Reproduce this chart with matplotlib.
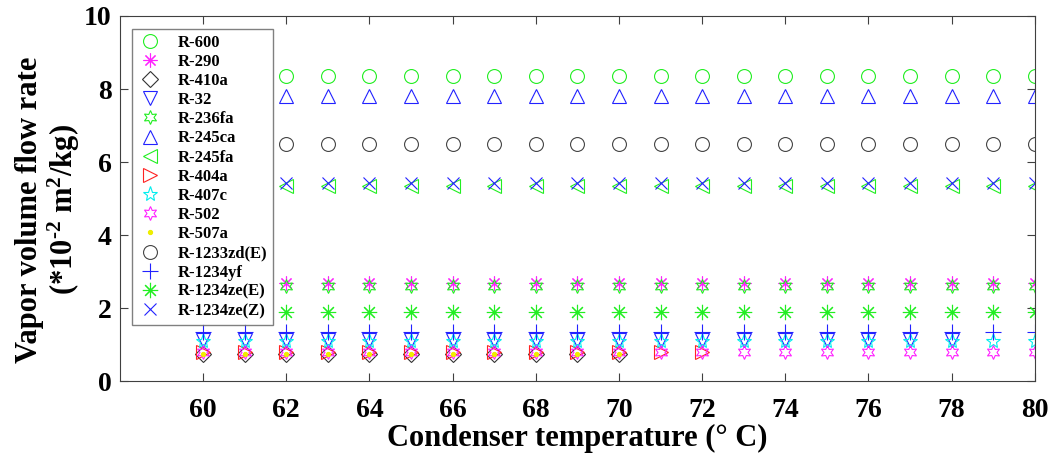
import matplotlib
matplotlib.use("Agg")
import matplotlib.pyplot as plt

plt.rcParams["font.family"] = ["Liberation Serif", "DejaVu Serif"]
plt.rcParams["font.weight"] = "bold"
plt.rcParams["mathtext.fontset"] = "custom"
plt.rcParams["mathtext.rm"] = "Liberation Serif:bold"
plt.rcParams["mathtext.bf"] = "Liberation Serif:bold"
plt.rcParams["mathtext.it"] = "Liberation Serif:bold"
plt.rcParams["mathtext.default"] = "rm"

# 冷凝温度 (°C)
t_all = [60, 61, 62, 63, 64, 65, 66, 67, 68, 69, 70, 71, 72, 73, 74, 75, 76, 77, 78, 79, 80]
t_62 = [62, 63, 64, 65, 66, 67, 68, 69, 70, 71, 72, 73, 74, 75, 76, 77, 78, 79, 80]
t_to78 = [60, 61, 62, 63, 64, 65, 66, 67, 68, 69, 70, 71, 72, 73, 74, 75, 76, 77, 78]
t_to72 = [60, 61, 62, 63, 64, 65, 66, 67, 68, 69, 70, 71, 72]
t_to70 = [60, 61, 62, 63, 64, 65, 66, 67, 68, 69, 70]

# 各工质的蒸气体积流量 (*10^-2 m^2/kg)
r600 = [8.35, 8.35, 8.35, 8.35, 8.35, 8.35, 8.35, 8.35, 8.35, 8.35, 8.35, 8.35, 8.35, 8.35, 8.35, 8.35, 8.35, 8.35, 8.35]
r290 = [2.68, 2.68, 2.68, 2.68, 2.68, 2.68, 2.68, 2.68, 2.68, 2.68, 2.68, 2.68, 2.68, 2.68, 2.68, 2.68, 2.68, 2.68, 2.68]
r410a = [0.75, 0.75, 0.75, 0.75, 0.75, 0.75, 0.75, 0.75, 0.75, 0.75, 0.75]
r32 = [1.12, 1.12, 1.12, 1.12, 1.12, 1.12, 1.12, 1.12, 1.12, 1.12, 1.12, 1.12, 1.12, 1.12, 1.12, 1.12, 1.12, 1.12, 1.12]
r236fa = [2.6, 2.6, 2.6, 2.6, 2.6, 2.6, 2.6, 2.6, 2.6, 2.6, 2.6, 2.6, 2.6, 2.6, 2.6, 2.6, 2.6, 2.6, 2.6]
r245ca = [7.8, 7.8, 7.8, 7.8, 7.8, 7.8, 7.8, 7.8, 7.8, 7.8, 7.8, 7.8, 7.8, 7.8, 7.8, 7.8, 7.8, 7.8, 7.8]
r245fa = [5.35, 5.35, 5.35, 5.35, 5.35, 5.35, 5.35, 5.35, 5.35, 5.35, 5.35, 5.35, 5.35, 5.35, 5.35, 5.35, 5.35, 5.35, 5.35]
r404a = [0.8, 0.8, 0.8, 0.8, 0.8, 0.8, 0.8, 0.8, 0.8, 0.8, 0.8, 0.8, 0.8]
r407c = [1.1, 1.1, 1.1, 1.1, 1.1, 1.1, 1.1, 1.1, 1.1, 1.1, 1.1, 1.1, 1.1, 1.1, 1.1, 1.1, 1.1, 1.1, 1.1, 1.1, 1.1]
r502 = [0.8, 0.8, 0.8, 0.8, 0.8, 0.8, 0.8, 0.8, 0.8, 0.8, 0.8, 0.8, 0.8, 0.8, 0.8, 0.8, 0.8, 0.8, 0.8, 0.8, 0.8]
r507a = [0.75, 0.75, 0.75, 0.75, 0.75, 0.75, 0.75, 0.75, 0.75, 0.75, 0.75]
r1233zd = [6.5, 6.5, 6.5, 6.5, 6.5, 6.5, 6.5, 6.5, 6.5, 6.5, 6.5, 6.5, 6.5, 6.5, 6.5, 6.5, 6.5, 6.5, 6.5]
r1234yf = [1.35, 1.35, 1.35, 1.35, 1.35, 1.35, 1.35, 1.35, 1.35, 1.35, 1.35, 1.35, 1.35, 1.35, 1.35, 1.35, 1.35, 1.35, 1.35, 1.35, 1.35]
r1234ze_e = [1.9, 1.9, 1.9, 1.9, 1.9, 1.9, 1.9, 1.9, 1.9, 1.9, 1.9, 1.9, 1.9, 1.9, 1.9, 1.9, 1.9, 1.9, 1.9]
r1234ze_z = [5.42, 5.42, 5.42, 5.42, 5.42, 5.42, 5.42, 5.42, 5.42, 5.42, 5.42, 5.42, 5.42, 5.42, 5.42, 5.42, 5.42, 5.42, 5.42]

x_ticks = [60, 62, 64, 66, 68, 70, 72, 74, 76, 78, 80]
y_ticks = [0, 2, 4, 6, 8, 10]

asterisk = (8, 2, 0)
hexagram = (6, 1, 0)

# (名称, 温度, 数值, 标记, 颜色, 尺寸)
series = [
    ("R-600", t_62, r600, "o", "#22ee22", 10),
    ("R-290", t_62, r290, asterisk, "#ff22ff", 10),
    ("R-410a", t_to70, r410a, "D", "#333333", 8),
    ("R-32", t_to78, r32, "v", "#2222ff", 10),
    ("R-236fa", t_62, r236fa, hexagram, "#22ee22", 10),
    ("R-245ca", t_62, r245ca, "^", "#2222ff", 10),
    ("R-245fa", t_62, r245fa, "<", "#22ee22", 10),
    ("R-404a", t_to72, r404a, ">", "#ff2222", 10),
    ("R-407c", t_all, r407c, "*", "#00eeee", 11),
    ("R-502", t_all, r502, hexagram, "#ff22ff", 10),
    ("R-507a", t_to70, r507a, ".", "#eeee00", 6),
    ("R-1233zd(E)", t_62, r1233zd, "o", "#444444", 10),
    ("R-1234yf", t_all, r1234yf, "+", "#2222ff", 11),
    ("R-1234ze(E)", t_62, r1234ze_e, asterisk, "#22ee22", 11),
    ("R-1234ze(Z)", t_62, r1234ze_z, "x", "#2222ff", 9),
]

fig = plt.figure(figsize=(10.57, 4.65), dpi=100)
ax = fig.add_axes([0.1135, 0.1806, 0.8655, 0.785])

for name, t, v, mk, col, ms in series:
    filled = mk == "."
    ax.plot(t, v, linestyle="none", marker=mk, markersize=ms,
            markeredgecolor=col, markerfacecolor=col if filled else "none",
            markeredgewidth=0.8, label=name)

ax.set_xlim(58, 80)
ax.set_ylim(0, 10)
ax.set_xticks(x_ticks)
ax.set_yticks(y_ticks)
ax.tick_params(direction="in", length=6, width=0.8, color="#404040",
               top=True, right=True, labelsize=20)
ax.tick_params(axis="x", pad=12)
ax.tick_params(axis="y", pad=6)
for lab in ax.get_xticklabels() + ax.get_yticklabels():
    lab.set_fontweight("bold")
for sp in ax.spines.values():
    sp.set_color("#404040")
    sp.set_linewidth(0.8)

ax.set_xlabel("Condenser temperature (° C)", fontsize=22, fontweight="bold", labelpad=1)
ax.set_ylabel("Vapor volume flow rate\n(*10$^{\\text{-2}}$ m$^{2}$/kg)", fontsize=22,
              fontweight="bold", linespacing=1.05)
ax.yaxis.set_label_coords(-0.042, 0.47)

leg = ax.legend(loc="upper left", bbox_to_anchor=(0.013, 0.965), borderaxespad=0,
                fancybox=False, edgecolor="#606060", labelspacing=0.19,
                handlelength=1.5, handletextpad=0.9, borderpad=0.35,
                prop={"weight": "bold", "size": 12})
leg.get_frame().set_linewidth(1.0)

fig.savefig("out.png", dpi=100)
